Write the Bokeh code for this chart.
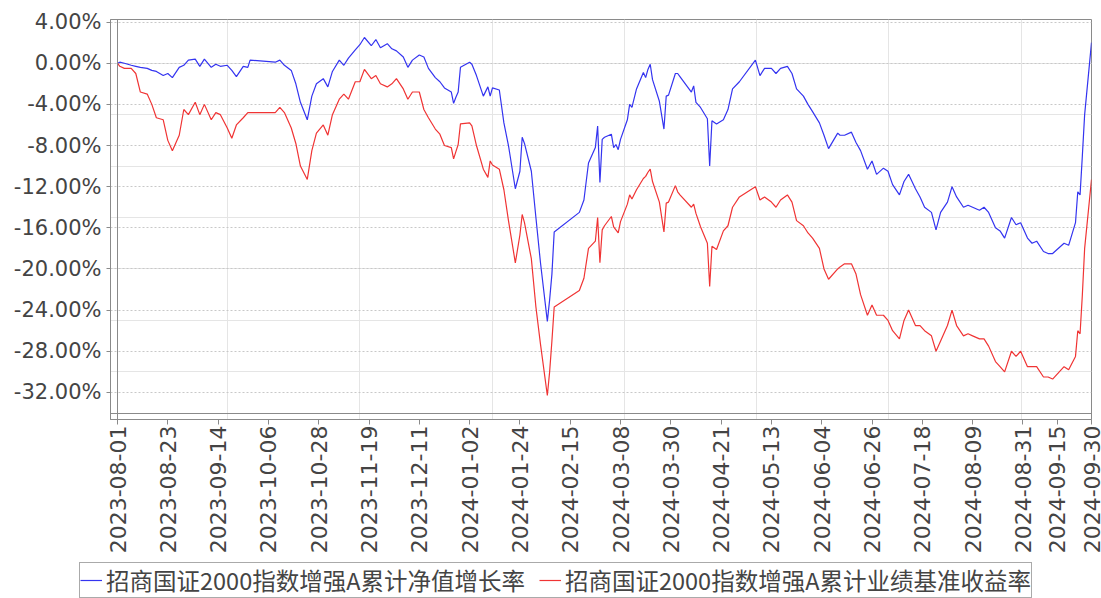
import math
import calendar
from datetime import datetime

import pandas as pd
from bokeh.plotting import figure
from bokeh.layouts import column
from bokeh.models import (Range1d, LinearAxis, DatetimeAxis, FixedTicker, PrintfTickFormatter,
                          DatetimeTickFormatter, Legend, LegendItem, ColumnDataSource, Grid, Span)
from bokeh.embed import file_html
from bokeh.resources import INLINE

# ---------------- data ----------------
dates = [
    "2023-08-01", "2023-08-02", "2023-08-04", "2023-08-07", "2023-08-09", "2023-08-11", "2023-08-14",
    "2023-08-16", "2023-08-18", "2023-08-21", "2023-08-23", "2023-08-25", "2023-08-28", "2023-08-30",
    "2023-09-01", "2023-09-04", "2023-09-06", "2023-09-08", "2023-09-11", "2023-09-13", "2023-09-15",
    "2023-09-18", "2023-09-20", "2023-09-22", "2023-09-25", "2023-09-27", "2023-09-28",
    "2023-10-09", "2023-10-11", "2023-10-13", "2023-10-16", "2023-10-18", "2023-10-20", "2023-10-23",
    "2023-10-25", "2023-10-27", "2023-10-30",
    "2023-11-01", "2023-11-03", "2023-11-06", "2023-11-08", "2023-11-10", "2023-11-13", "2023-11-15",
    "2023-11-17", "2023-11-20", "2023-11-22", "2023-11-24", "2023-11-27", "2023-11-29",
    "2023-12-01", "2023-12-04", "2023-12-06", "2023-12-08", "2023-12-11", "2023-12-13", "2023-12-15",
    "2023-12-18", "2023-12-20", "2023-12-22", "2023-12-25", "2023-12-26", "2023-12-27", "2023-12-28",
    "2023-12-29",
    "2024-01-02", "2024-01-03", "2024-01-05", "2024-01-08", "2024-01-10", "2024-01-11", "2024-01-12",
    "2024-01-15", "2024-01-17", "2024-01-19", "2024-01-22", "2024-01-24", "2024-01-25", "2024-01-26",
    "2024-01-29", "2024-01-31",
    "2024-02-02", "2024-02-05", "2024-02-06", "2024-02-07", "2024-02-08", "2024-02-19", "2024-02-21",
    "2024-02-23", "2024-02-26", "2024-02-27", "2024-02-28", "2024-02-29",
    "2024-03-01", "2024-03-04", "2024-03-05", "2024-03-06", "2024-03-07", "2024-03-08", "2024-03-11",
    "2024-03-12", "2024-03-13", "2024-03-15", "2024-03-18", "2024-03-19", "2024-03-20", "2024-03-21",
    "2024-03-22", "2024-03-25", "2024-03-27", "2024-03-28", "2024-03-29",
    "2024-04-01", "2024-04-02", "2024-04-03", "2024-04-08", "2024-04-09", "2024-04-10", "2024-04-12",
    "2024-04-15", "2024-04-16", "2024-04-17", "2024-04-19", "2024-04-22", "2024-04-24", "2024-04-26",
    "2024-04-29",
    "2024-05-06", "2024-05-08", "2024-05-10", "2024-05-13", "2024-05-15", "2024-05-17", "2024-05-20",
    "2024-05-22", "2024-05-24", "2024-05-27", "2024-05-29", "2024-05-31",
    "2024-06-03", "2024-06-05", "2024-06-07", "2024-06-11", "2024-06-12", "2024-06-14", "2024-06-17",
    "2024-06-19", "2024-06-21", "2024-06-24", "2024-06-26", "2024-06-28",
    "2024-07-01", "2024-07-03", "2024-07-05", "2024-07-08", "2024-07-10", "2024-07-12", "2024-07-15",
    "2024-07-17", "2024-07-19", "2024-07-22", "2024-07-24", "2024-07-26", "2024-07-29", "2024-07-31",
    "2024-08-02", "2024-08-05", "2024-08-07", "2024-08-09", "2024-08-12", "2024-08-14", "2024-08-16",
    "2024-08-19", "2024-08-21", "2024-08-23", "2024-08-26", "2024-08-28", "2024-08-30",
    "2024-09-02", "2024-09-04", "2024-09-06", "2024-09-09", "2024-09-11", "2024-09-13", "2024-09-18",
    "2024-09-20", "2024-09-23", "2024-09-24", "2024-09-25", "2024-09-26", "2024-09-27", "2024-09-30",
]

nav_growth = [
    # 2023-08
    0.0, 0.1, 0.0, -0.2, -0.3, -0.4, -0.5, -0.7, -0.8, -1.2, -1.0, -1.4, -0.4, -0.2,
    # 2023-09
    0.3, 0.4, -0.3, 0.4, -0.4, -0.1, -0.3, -0.2, -0.7, -1.3, -0.3, -0.4, 0.3,
    # 2023-10
    0.1, 0.3, -0.2, -0.7, -2.0, -3.8, -5.5, -3.2, -2.0, -1.5,
    # 2023-11
    -2.3, -0.8, 0.3, -0.2, 0.5, 1.3, 1.8, 2.5, 1.7, 2.3, 1.5, 1.9, 1.4,
    # 2023-12
    1.2, 0.6, -0.4, 0.3, 0.8, 0.6, -0.5, -1.4, -1.8, -2.4, -2.8, -3.9, -3.3, -2.8, -0.4,
    # 2024-01
    0.1, -0.1, -1.2, -3.2, -2.3, -3.2, -2.4, -2.6, -5.8, -8.0, -12.2, -10.5, -7.2, -7.8, -10.5, -15.0,
    # 2024-02
    -19.4, -25.1, -23.0, -20.5, -16.4, -14.5, -13.3, -9.7, -8.2, -6.1, -11.6, -7.4,
    # 2024-03
    -7.2, -6.9, -8.2, -7.9, -8.4, -7.4, -5.5, -4.0, -4.3, -2.5, -0.9, -1.4, -0.6, -0.1, -1.6, -3.7,
    -6.4, -3.2, -3.1,
    # 2024-04
    -1.0, -1.0, -1.3, -2.8, -2.2, -3.8, -4.3, -5.4, -10.0, -5.6, -5.9, -5.5, -4.5, -2.5, -1.8,
    # 2024-05
    0.3, -1.2, -0.5, -0.5, -1.0, -0.5, -0.3, -1.0, -2.5, -3.2, -4.0, -4.7,
    # 2024-06
    -5.8, -7.0, -8.3, -6.8, -7.0, -7.0, -6.7, -7.7, -8.5, -10.3, -9.5, -10.8,
    # 2024-07
    -10.2, -10.5, -11.8, -12.8, -11.5, -10.8, -12.2, -13.0, -14.0, -14.5, -16.2, -14.5, -13.5, -12.0,
    # 2024-08
    -13.0, -14.0, -13.8, -14.0, -14.3, -14.0, -14.5, -16.0, -16.3, -17.0, -15.0, -15.7, -15.5,
    # 2024-09
    -17.0, -17.5, -17.3, -18.3, -18.5, -18.5, -17.5, -17.7, -15.5, -12.5, -12.8, -9.0, -5.0, 2.0,
]

benchmark = [
    # 2023-08
    0.0, -0.3, -0.5, -0.5, -1.0, -2.8, -3.0, -4.0, -5.3, -5.5, -7.5, -8.5, -7.0, -4.5,
    # 2023-09
    -5.0, -3.8, -5.0, -4.0, -5.5, -4.8, -5.0, -6.3, -7.3, -6.0, -5.3, -4.8, -4.8,
    # 2023-10
    -4.8, -4.3, -4.8, -6.3, -7.8, -10.0, -11.3, -8.5, -6.8, -6.0,
    # 2023-11
    -7.0, -5.0, -3.5, -3.0, -3.5, -1.8, -1.8, -0.6, -1.5, -1.2, -2.0, -2.3, -2.0,
    # 2023-12
    -1.5, -2.5, -3.5, -2.8, -2.8, -4.5, -5.3, -6.4, -6.9, -8.0, -8.2, -9.3, -8.6, -7.9, -5.9,
    # 2024-01
    -5.8, -6.1, -8.0, -10.3, -11.1, -9.5, -9.9, -10.3, -12.3, -15.3, -19.4, -16.7, -14.7, -15.5,
    -19.0, -23.7,
    # 2024-02
    -27.3, -32.3, -30.0, -27.0, -23.7, -22.1, -20.9, -18.0, -17.3, -15.0, -19.4, -16.2,
    # 2024-03
    -15.8, -14.9, -15.9, -16.2, -16.5, -15.4, -13.7, -12.8, -13.2, -12.3, -11.2, -11.0, -10.6, -10.3,
    -11.5, -13.5, -16.4, -13.6, -13.5,
    # 2024-04
    -11.9, -12.5, -12.8, -14.0, -13.7, -14.6, -15.9, -17.5, -21.7, -17.8, -18.1, -16.3, -15.8, -14.0,
    -13.0,
    # 2024-05
    -12.0, -13.3, -13.0, -13.5, -14.0, -13.3, -12.8, -13.5, -15.3, -15.8, -16.5, -17.0,
    # 2024-06
    -18.0, -20.0, -21.0, -20.0, -19.8, -19.5, -19.5, -20.5, -22.5, -24.5, -23.5, -24.5,
    # 2024-07
    -24.5, -25.0, -26.0, -26.8, -25.0, -24.0, -25.5, -25.5, -26.0, -26.5, -28.0, -27.0, -25.5, -24.0,
    # 2024-08
    -25.5, -26.5, -26.3, -26.5, -26.8, -26.8, -27.5, -29.0, -29.5, -30.0, -28.0, -28.5, -28.0,
    # 2024-09
    -29.5, -29.5, -29.5, -30.5, -30.5, -30.7, -29.5, -29.8, -28.5, -26.0, -26.3, -22.5, -18.0, -11.3,
]

tick_dates = ["2023-08-01", "2023-08-23", "2023-09-14", "2023-10-06", "2023-10-28", "2023-11-19",
              "2023-12-11", "2024-01-02", "2024-01-24", "2024-02-15", "2024-03-08", "2024-03-30",
              "2024-04-21", "2024-05-13", "2024-06-04", "2024-06-26", "2024-07-18", "2024-08-09",
              "2024-08-31", "2024-09-15", "2024-09-30"]

y_ticks = [4, 0, -4, -8, -12, -16, -20, -24, -28, -32]
y_low, y_high = -34.05, 4.25

series_names = ["招商国证2000指数增强A累计净值增长率", "招商国证2000指数增强A累计业绩基准收益率"]
series_colors = ["#3434f0", "#f03434"]


def to_ms(s):
    return calendar.timegm(datetime.strptime(s, "%Y-%m-%d").timetuple()) * 1000.0


# ---------------- layout constants (pixels) ----------------
W, H_MAIN, H_LEG = 1101, 560, 38
AXIS_LEFT, PLOT_LEFT, PLOT_RIGHT = 110, 117, 1091      # axis line / inner plot box edges
PLOT_TOP, PLOT_BOTTOM, AXIS_BOTTOM = 19, 413, 419

t0, t1 = to_ms(tick_dates[0]), to_ms(tick_dates[-1])
ms_per_px = (t1 - t0) / (PLOT_RIGHT - PLOT_LEFT)
val_per_px = (y_high - y_low) / (PLOT_BOTTOM - PLOT_TOP)
x_range = Range1d(t0 - (PLOT_LEFT - AXIS_LEFT) * ms_per_px, t1)
y_range = Range1d(y_low - (AXIS_BOTTOM - PLOT_BOTTOM) * val_per_px, y_high)

source = ColumnDataSource(dict(x=pd.to_datetime(dates), nav=nav_growth, bench=benchmark))

p = figure(width=W, height=H_MAIN, output_backend="svg", toolbar_location=None,
           x_axis_location=None, y_axis_location=None, x_range=x_range, y_range=y_range,
           min_border_left=AXIS_LEFT, min_border_right=W - PLOT_RIGHT,
           min_border_top=PLOT_TOP, min_border_bottom=H_MAIN - AXIS_BOTTOM)
p.background_fill_color = "white"
p.border_fill_color = "white"
frame_gray = "#8a8a8a"
p.outline_line_color = frame_gray
p.outline_line_width = 1

p.add_layout(Grid(dimension=1, ticker=FixedTicker(ticks=y_ticks),
                  grid_line_color="#c8c8c8", grid_line_dash="2 2", grid_line_width=1))

# inner plot box edges (left and bottom), offset from the axis lines
p.add_layout(Span(location=t0, dimension="height", line_color=frame_gray, line_width=1))
p.add_layout(Span(location=y_low, dimension="width", line_color=frame_gray, line_width=1))

label_color = "#444444"

yaxis = LinearAxis(ticker=FixedTicker(ticks=y_ticks), formatter=PrintfTickFormatter(format="%.2f%%"),
                   axis_line_color=frame_gray, major_tick_out=4, major_tick_in=0,
                   major_tick_line_color=frame_gray, minor_tick_line_color=None,
                   major_label_text_font="DejaVu Sans", major_label_text_font_size="21px",
                   major_label_text_color=label_color, major_label_standoff=5)
p.add_layout(yaxis, "left")

fmt = "%Y-%m-%d"
xaxis = DatetimeAxis(ticker=FixedTicker(ticks=[to_ms(d) for d in tick_dates]),
                     formatter=DatetimeTickFormatter(microseconds=fmt, milliseconds=fmt, seconds=fmt,
                                                     minsec=fmt, minutes=fmt, hourmin=fmt, hours=fmt,
                                                     days=fmt, months=fmt, years=fmt),
                     axis_line_color=frame_gray, major_tick_out=5, major_tick_in=0,
                     major_tick_line_color=frame_gray, minor_tick_line_color=None,
                     major_label_orientation=math.pi / 2,
                     major_label_text_font="DejaVu Sans", major_label_text_font_size="22px",
                     major_label_text_color=label_color, major_label_standoff=1)
p.add_layout(xaxis, "below")

p.line("x", "nav", source=source, line_color=series_colors[0], line_width=1.2)
p.line("x", "bench", source=source, line_color=series_colors[1], line_width=1.2)

# ---------------- legend strip ----------------
lf = figure(width=W, height=H_LEG, output_backend="svg", toolbar_location=None,
            x_axis_location=None, y_axis_location=None, x_range=Range1d(0, 1), y_range=Range1d(0, 1),
            min_border_left=77, min_border_right=0, min_border_top=0, min_border_bottom=0)
lf.outline_line_color = None
lf.background_fill_color = "white"
lf.border_fill_color = "white"
lf.xgrid.visible = False
lf.ygrid.visible = False
# key renderers hold one real data point each (off this strip's ranges, so only the legend key shows)
k1 = lf.line(x=[to_ms(dates[0])], y=[nav_growth[0]], line_color=series_colors[0], line_width=1.2)
k2 = lf.line(x=[to_ms(dates[0])], y=[benchmark[0]], line_color=series_colors[1], line_width=1.2)
legend = Legend(items=[LegendItem(label=series_names[0], renderers=[k1]),
                       LegendItem(label=series_names[1], renderers=[k2])],
                location="top_left", orientation="horizontal",
                label_text_font="Noto Sans CJK SC", label_text_font_size="23.5px",
                label_text_color="#444444", glyph_width=22, glyph_height=20,
                label_standoff=4, spacing=14, padding=0, margin=2,
                border_line_color="#555555", border_line_width=1.5,
                background_fill_color="white", background_fill_alpha=1.0)
lf.add_layout(legend)

layout = column(p, column(lf, spacing=0), spacing=0)
open("out.html", "w").write(file_html(layout, INLINE))
